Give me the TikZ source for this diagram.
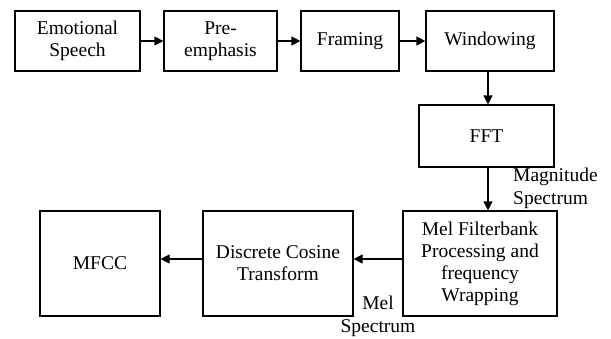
\documentclass[tikz,border=0pt]{standalone}
\usepackage{fontspec}
\setmainfont{Liberation Serif}
\usetikzlibrary{arrows.meta}

\tikzset{
    block/.style={draw, line width=1.2pt, align=center, inner sep=2pt,
        font=\fontsize{19.5}{22}\selectfont},
    arr/.style={line width=1.2pt, -{Triangle[length=9pt, width=9pt]}},
    lbl/.style={font=\fontsize{19.5}{23}\selectfont, inner sep=0pt}
}

\begin{document}
\begin{tikzpicture}[x=1pt, y=-1pt]
    \useasboundingbox (0, 0) rectangle (611, 338);

    % Top row
    \node[block, minimum width=125, minimum height=60] (speech) at (77.5, 41) {Emotional\\Speech};
    \node[block, minimum width=113, minimum height=60] (preemph) at (220.5, 41) {Pre-\\emphasis};
    \node[block, minimum width=98, minimum height=60] (framing) at (350, 41) {Framing};
    \node[block, minimum width=128, minimum height=60] (window) at (490, 41) {Windowing};

    % Right column
    \node[block, minimum width=135, minimum height=62] (fft) at (486.5, 136) {FFT};
    \node[block, minimum width=154, minimum height=105] (melfb) at (480, 263.5) {Mel Filterbank\\Processing and\\frequency\\Wrapping};

    % Bottom row
    \node[block, minimum width=150, minimum height=105] (dct) at (278, 263.5) {Discrete Cosine\\Transform};
    \node[block, minimum width=120, minimum height=105] (mfcc) at (100, 263.5) {MFCC};

    % Arrows
    \draw[arr] (speech) -- (preemph);
    \draw[arr] (preemph) -- (framing);
    \draw[arr] (framing) -- (window);
    \draw[arr] ([xshift=-2]window.south) -- ([xshift=1.5]fft.north);
    \draw[arr] ([xshift=1.5]fft.south) -- ([xshift=8]melfb.north);
    \draw[arr] ([yshift=4.5]melfb.west) -- ([yshift=4.5]dct.east);
    \draw[arr] ([yshift=4.5]dct.west) -- ([yshift=4.5]mfcc.east);

    % Labels
    \node[lbl, align=left, anchor=west] (magspec) at (513, 188) {Magnitude\\Spectrum};
    \node[lbl, align=center] (melspec) at (378, 316) {Mel\\Spectrum};
\end{tikzpicture}
\end{document}
